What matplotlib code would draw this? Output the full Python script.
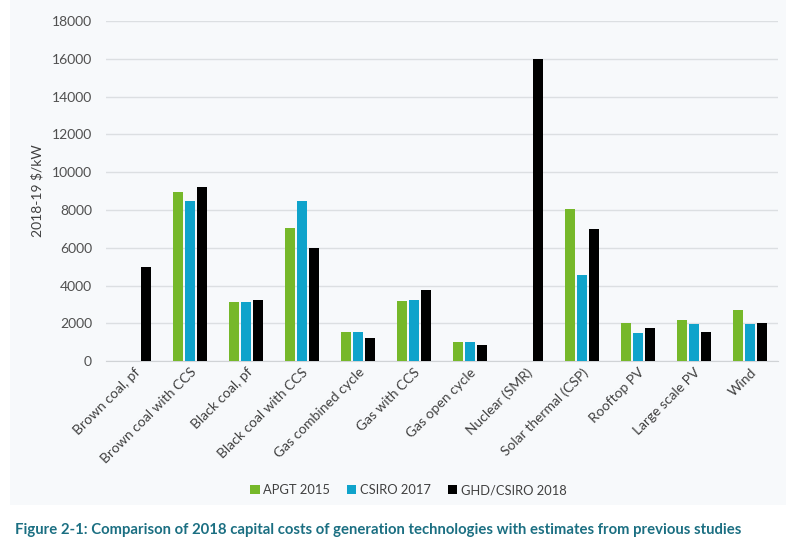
import numpy as np
import matplotlib
matplotlib.use("Agg")
import matplotlib.pyplot as plt

# Data (2018-19 $/kW)
technologies = ["Brown coal, pf", "Brown coal with CCS", "Black coal, pf",
                "Black coal with CCS", "Gas combined cycle", "Gas with CCS",
                "Gas open cycle", "Nuclear (SMR)", "Solar thermal (CSP)",
                "Rooftop PV", "Large scale PV", "Wind"]
apgt_2015 = [0, 8930, 3110, 7070, 1520, 3200, 1010, 0, 8030, 2020, 2160, 2710]
csiro_2017 = [0, 8450, 3110, 8450, 1520, 3220, 1010, 0, 4550, 1500, 1980, 1990]
ghd_2018 = [5000, 9200, 3240, 6000, 1240, 3770, 870, 16000, 7000, 1770, 1560, 2000]
series_names = ["APGT 2015", "CSIRO 2017", "GHD/CSIRO 2018"]
series_colors = ["#76b82a", "#0fa3cb", "#000000"]

plt.rcParams['font.family'] = ['Lato', 'DejaVu Sans']

fig = plt.figure(figsize=(8, 5.48), dpi=100)
fig.patch.set_facecolor("white")

# light panel behind the chart
panel = plt.Rectangle((0.012, 0.078), 0.97, 0.922, transform=fig.transFigure,
                      facecolor="#f7f9fb", edgecolor="none", zorder=-5)
fig.patches.append(panel)

ax = fig.add_axes([0.1325, 0.341, 0.84, 0.6207])
ax.set_facecolor("none")

x = np.arange(len(technologies))
width = 0.18
pitch = 0.222
for i, (vals, name, col) in enumerate(zip([apgt_2015, csiro_2017, ghd_2018],
                                          series_names, series_colors)):
    ax.bar(x + (i - 1) * pitch, vals, width, color=col, label=name, zorder=3)

ax.set_xlim(-0.5, len(technologies) - 0.5)
ax.set_ylim(0, 18000)
ax.set_yticks(np.arange(0, 18001, 2000))
ax.yaxis.grid(True, color="#dcdfe2", linewidth=1.0, zorder=0)
ax.set_axisbelow(True)
for s in ["top", "right", "left"]:
    ax.spines[s].set_visible(False)
ax.spines["bottom"].set_color("#d0d3d6")
ax.tick_params(axis="both", length=0, colors="#505050", labelsize=10)
ax.tick_params(axis="y", pad=10)

ax.set_xticks(x)
ax.set_xticklabels(technologies, rotation=45, ha="right", rotation_mode="anchor",
                   fontsize=10, color="#404040")
ax.set_ylabel(r"2018-19 \$/kW", fontsize=10, color="#404040", labelpad=6)

ax.legend(loc="center", bbox_to_anchor=(0.45, -0.38), ncol=3, frameon=False,
          fontsize=9.3, handlelength=0.7, handleheight=0.7, handletextpad=0.3,
          columnspacing=1.3, labelcolor="#404040")

fig.text(0.019, 0.033, "Figure 2-1: Comparison of 2018 capital costs of generation "
         "technologies with estimates from previous studies",
         fontsize=10.75, fontweight="bold", color="#1b6f82", ha="left", va="center")

plt.savefig("out.png", dpi=100, facecolor=fig.get_facecolor())
